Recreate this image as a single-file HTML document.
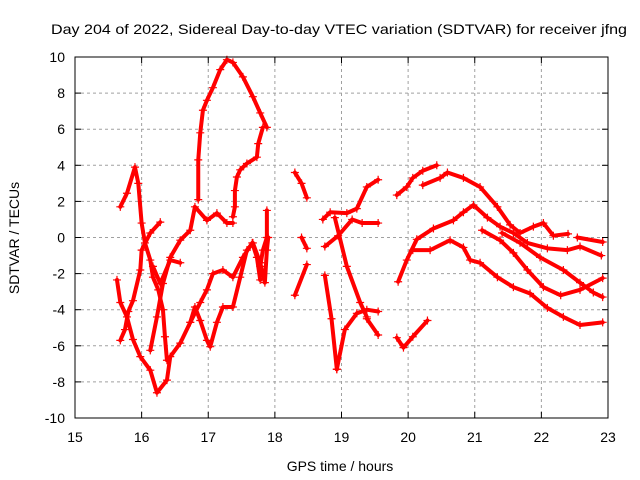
<!DOCTYPE html>
<html><head><meta charset="utf-8">
<style>
body{margin:0;background:#fff;}
svg{display:block;font-family:"Liberation Sans",sans-serif;}
</style></head>
<body>
<svg id="chart" width="640" height="480" viewBox="0 0 640 480" xmlns="http://www.w3.org/2000/svg">
<rect width="640" height="480" fill="#fff"/>
<text x="51" y="34" font-size="14" textLength="576" lengthAdjust="spacingAndGlyphs">Day 204 of 2022, Sidereal Day-to-day VTEC variation (SDTVAR) for receiver jfng</text>
<g id="grid"></g>
<g id="series"></g>
<g id="axes"></g>
<text x="340" y="471" font-size="14" text-anchor="middle">GPS time / hours</text>
<text x="0" y="0" font-size="14" text-anchor="middle" transform="translate(19,238) rotate(-90)">SDTVAR / TECUs</text>
</svg>
<script>
const xTicks=[15,16,17,18,19,20,21,22,23];
const yTicks=[-10,-8,-6,-4,-2,0,2,4,6,8,10];
const trackA=[[15.68,1.7],[15.78,2.45],[15.9,3.9],[15.95,3.0],[16.0,0.8],[16.05,-0.3],[16.13,-1.25],[16.17,-2.2],[16.25,-2.9],[16.32,-4.0],[16.35,-5.5],[16.38,-6.8]];
const trackB=[[15.68,-5.7],[15.75,-5.1],[15.8,-4.1],[15.87,-3.5],[15.98,-1.8],[16.0,-0.7],[16.13,0.25],[16.28,0.85]];
const trackC=[[15.63,-2.35],[15.68,-3.6],[15.78,-4.4],[15.87,-5.65],[15.98,-6.6],[16.13,-7.35],[16.23,-8.6],[16.38,-7.9],[16.43,-6.6],[16.58,-5.85],[16.73,-4.7],[16.8,-3.85],[16.88,-4.6],[16.98,-5.7],[17.03,-6.05],[17.13,-4.7],[17.22,-3.85],[17.37,-3.85],[17.48,-2.2],[17.58,-0.7],[17.67,-0.3],[17.78,-1.4],[17.85,-2.5],[17.88,-0.7],[17.9,0]];
const trackD=[[16.13,-6.25],[16.23,-4.4],[16.32,-2.55],[16.43,-1.1],[16.58,-0.15],[16.73,0.4],[16.8,1.7],[16.98,0.95],[17.13,1.35],[17.28,0.8],[17.37,0.8]];
const trackE=[[16.17,-1.6],[16.28,-2.55],[16.43,-1.25],[16.58,-1.4]];
const trackF=[[16.73,-4.7],[16.88,-3.6],[16.98,-2.9],[17.07,-2.0],[17.22,-1.8],[17.37,-2.2],[17.52,-1.1],[17.66,-0.3],[17.73,-1.1],[17.78,-2.35]];
const trackG=[[16.85,2.1],[16.85,4.3],[16.88,5.8],[16.92,7.05],[16.98,7.6],[17.07,8.3],[17.18,9.3],[17.28,9.85],[17.37,9.7],[17.52,8.9],[17.67,7.8],[17.78,6.9],[17.88,6.1]];
const trackH=[[17.82,6.1],[17.75,5.2],[17.73,4.45],[17.58,4.1],[17.48,3.75],[17.43,3.35],[17.4,2.6],[17.4,1.7],[17.37,1.15]];
const trackI=[[17.88,1.5],[17.88,0],[17.82,-0.7],[17.78,-1.6]];
const trackJ=[[18.3,3.6],[18.4,3.0],[18.48,2.2]];
const trackK=[[18.4,0],[18.48,-0.6]];
const trackL=[[18.3,-3.2],[18.48,-1.5]];
const trackM=[[18.75,-2.1],[18.85,-4.5],[18.93,-7.3]];
const trackN=[[18.93,-7.3],[19.05,-5.1],[19.23,-4.2],[19.38,-4.0],[19.55,-4.1]];
const trackO=[[19.38,-4.5],[19.55,-5.4]];
const trackP=[[18.9,1.1],[19.08,-1.6],[19.28,-3.6],[19.38,-4.4]];
const trackQ=[[18.72,1.0],[18.83,1.4],[19.08,1.35],[19.23,1.6],[19.38,2.8],[19.55,3.2]];
const trackR=[[18.75,-0.5],[18.95,0.1],[19.16,1.0],[19.31,0.8],[19.55,0.8]];
const trackS=[[19.83,2.35],[19.98,2.8],[20.07,3.3],[20.22,3.7],[20.43,4.0]];
const trackT=[[20.22,2.9],[20.48,3.3],[20.59,3.6],[20.83,3.3],[21.08,2.8],[21.34,1.7],[21.53,0.7],[21.68,0.25],[21.88,0.6],[22.03,0.8],[22.18,0.1],[22.4,0.2]];
const trackU=[[22.54,0],[22.92,-0.25]];
const trackV=[[19.85,-2.45],[19.98,-1.25],[20.13,-0.1],[20.38,0.5],[20.68,0.95],[20.83,1.4],[20.98,1.8],[21.19,1.1],[21.38,0.6],[21.58,0.25],[21.79,-0.3],[22.09,-0.6],[22.39,-0.7],[22.58,-0.5],[22.9,-1.0]];
const trackW=[[20.07,-0.7],[20.33,-0.7],[20.63,-0.15],[20.83,-0.55],[20.93,-1.25],[21.08,-1.4],[21.34,-2.2],[21.58,-2.75],[21.83,-3.1],[22.09,-3.9],[22.33,-4.4],[22.58,-4.85],[22.92,-4.7]];
const trackX=[[21.11,0.4],[21.38,-0.15],[21.58,-0.85],[21.79,-1.8],[22.03,-2.75],[22.29,-3.2],[22.58,-2.9],[22.92,-2.25]];
const trackY=[[21.41,0.25],[21.68,-0.3],[21.98,-1.1],[22.33,-1.8],[22.58,-2.5],[22.78,-3.05],[22.92,-3.3]];
const trackZ=[[19.83,-5.55],[19.93,-6.1],[20.07,-5.5],[20.29,-4.6]];
const tracks=[trackA,trackB,trackC,trackD,trackE,trackF,trackG,trackH,trackI,trackJ,trackK,trackL,trackM,trackN,trackO,trackP,trackQ,trackR,trackS,trackT,trackU,trackV,trackW,trackX,trackY,trackZ];

const X0=75,X1=608,Y0=418,Y1=57;
const xs=t=>X0+(t-15)/8*(X1-X0);
const ys=v=>Y0-(v+10)/20*(Y0-Y1);
const NS="http://www.w3.org/2000/svg";
function mk(tag,attrs,parent){const e=document.createElementNS(NS,tag);for(const k in attrs)e.setAttribute(k,attrs[k]);parent.appendChild(e);return e;}
const grid=document.getElementById('grid'),axes=document.getElementById('axes'),ser=document.getElementById('series');
xTicks.forEach(t=>{
  const x=xs(t);
  if(t>15&&t<23){const g=mk('line',{x1:x,x2:x,y1:Y1,y2:Y0,stroke:'#a0a0a0','stroke-dasharray':'3,3'},grid);
  
  }
  mk('line',{x1:x,x2:x,y1:Y0,y2:Y0-6,stroke:'#000'},axes);
  mk('line',{x1:x,x2:x,y1:Y1,y2:Y1+6,stroke:'#000'},axes);
  const l=mk('text',{x:x,y:Y0+24,'font-size':14,'text-anchor':'middle'},axes);
  l.textContent=t;
  
  
});
yTicks.forEach(v=>{
  const y=ys(v);
  if(v>-10&&v<10){const g=mk('line',{x1:X0,x2:X1,y1:y,y2:y,stroke:'#a0a0a0','stroke-dasharray':'3,3'},grid);
  
  }
  mk('line',{x1:X0,x2:X0+6,y1:y,y2:y,stroke:'#000'},axes);
  mk('line',{x1:X1,x2:X1-6,y1:y,y2:y,stroke:'#000'},axes);
  const l=mk('text',{x:X0-10,y:y+5,'font-size':14,'text-anchor':'end'},axes);
  l.textContent=v;
  
  
});
const box=mk('rect',{x:X0,y:Y1,width:X1-X0,height:Y0-Y1,fill:'none',stroke:'#000'},axes);


tracks.forEach(tr=>{
  const pl=mk('polyline',{points:tr.map(p=>xs(p[0])+','+ys(p[1])).join(' '),fill:'none',stroke:'#ff0000','stroke-width':4,'stroke-linejoin':'round','stroke-linecap':'round'},ser);
  
  
  tr.forEach(p=>{
    const x=xs(p[0]),y=ys(p[1]);
    const m=mk('path',{d:`M${x-4},${y}H${x+4}M${x},${y-4}V${y+4}`,stroke:'#ff0000','stroke-width':1.2},ser);
    
    
  });
});
</script>
</body></html>
